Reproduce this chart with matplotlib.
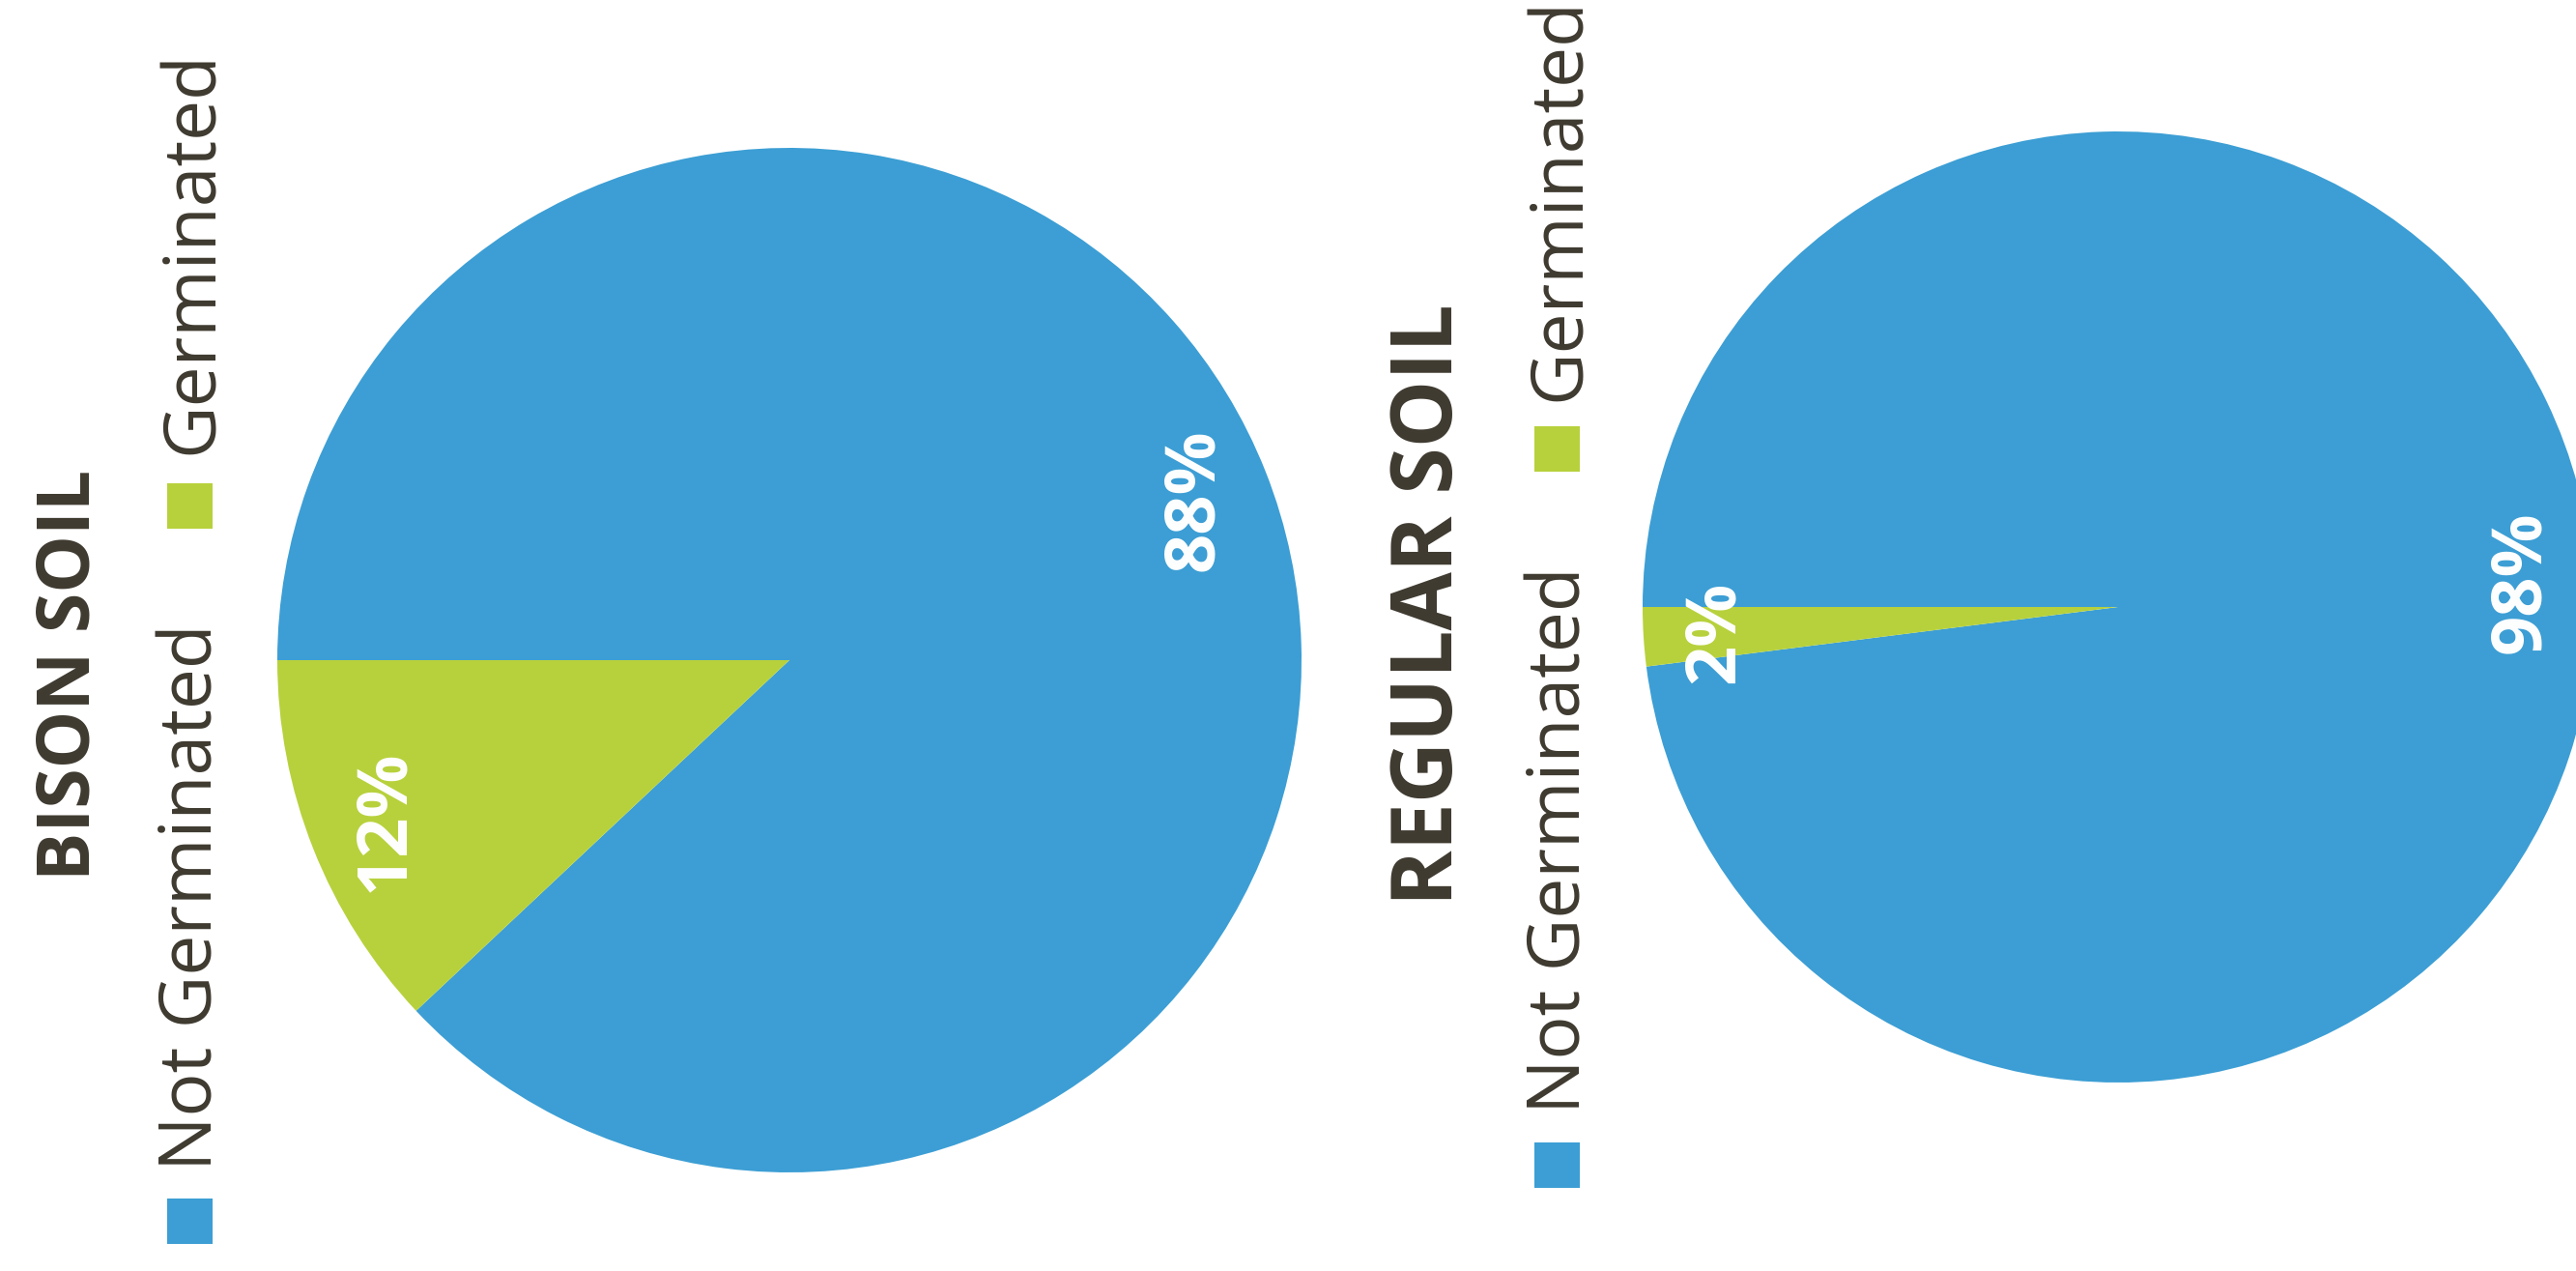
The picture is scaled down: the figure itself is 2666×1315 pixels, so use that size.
import matplotlib
matplotlib.use('Agg')
import matplotlib.pyplot as plt
from matplotlib.patches import Rectangle

W, H = 2666, 1315
plt.rcParams['font.family'] = ['Open Sans', 'DejaVu Sans']

labels = ['Not Germinated', 'Germinated']
bison_vals = [88, 12]
regular_vals = [98, 2]
titles = ['BISON SOIL', 'REGULAR SOIL']

blue = '#3c9ed4'
green = '#b7d13c'
text_col = '#3f3a30'


def fx(x):
    return x / W


def fy(y):
    # image coords (y down) -> figure fraction
    return 1 - y / H


fig = plt.figure(figsize=(W / 100, H / 100), dpi=100)
fig.patch.set_facecolor('white')


def draw_pie(vals, cx, cy, r):
    ax = fig.add_axes([fx(cx - r), fy(cy + r), 2 * r / W, 2 * r / H])
    wedges, texts, autotexts = ax.pie(
        vals, colors=[blue, green], startangle=180, counterclock=False,
        autopct=lambda p: '%.0f%%' % p, pctdistance=0.85,
        wedgeprops=dict(edgecolor='none', linewidth=0),
        textprops=dict(color='white', fontsize=52, fontweight='bold'))
    for t in autotexts:
        t.set_rotation(90)
        t.set_ha('center')
        t.set_va('center')
    ax.set_xlim(-1, 1)
    ax.set_ylim(-1, 1)
    ax.axis('off')
    return ax


def draw_legend(x_base, green_sq_y, germ_start, blue_sq_y, notg_start):
    sq = 47
    for cy, c in [(green_sq_y, green), (blue_sq_y, blue)]:
        fig.patches.append(Rectangle((fx(x_base - sq), fy(cy + sq / 2)),
                                     sq / W, sq / H, transform=fig.transFigure,
                                     facecolor=c, edgecolor='none'))
    fig.text(fx(x_base), fy(germ_start), labels[1], rotation=90,
             rotation_mode='anchor', ha='left', va='baseline',
             fontsize=54, color=text_col)
    fig.text(fx(x_base), fy(notg_start), labels[0], rotation=90,
             rotation_mode='anchor', ha='left', va='baseline',
             fontsize=54, color=text_col)


# left: bison soil
draw_pie(bison_vals, 817, 683, 530)
fig.text(fx(93), fy(698), titles[0], rotation=90, rotation_mode='anchor',
         ha='center', va='baseline', fontsize=54, fontweight='bold',
         color=text_col)
draw_legend(220, 524, 470, 1263, 1211)

# right: regular soil
draw_pie(regular_vals, 2192, 628, 492)
fig.text(fx(1503), fy(626), titles[1], rotation=90, rotation_mode='anchor',
         ha='center', va='baseline', fontsize=63, fontweight='bold',
         color=text_col)
draw_legend(1635, 465, 415, 1205, 1152)

fig.savefig('out.png', dpi=100)
